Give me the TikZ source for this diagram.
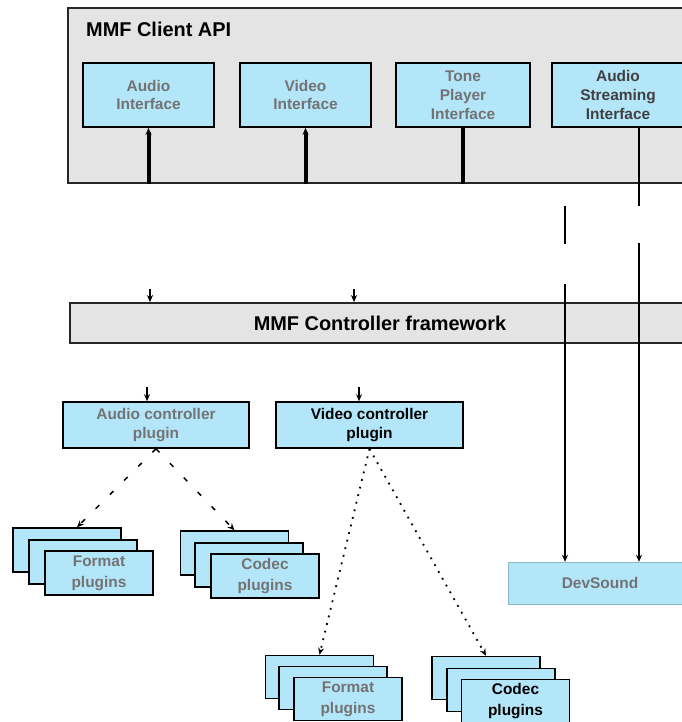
\documentclass[tikz,border=0pt]{standalone}
\usepackage{fontspec}
\setmainfont{Liberation Sans}
\usetikzlibrary{arrows.meta}
\definecolor{panel}{HTML}{E4E4E4}
\definecolor{ifblue}{HTML}{B4E6FA}
\definecolor{edge}{HTML}{262626}
\begin{document}
\begin{tikzpicture}[x=1bp,y=-1bp,
  panelbox/.style={draw=edge,line width=1.8bp,fill=panel,inner sep=0pt},
  titletext/.style={font=\fontsize{20}{23}\selectfont\bfseries,inner sep=0pt},
  ifbox/.style={draw=black,line width=1.8bp,fill=ifblue,inner sep=0pt,align=center,
    font=\fontsize{15.5}{19}\selectfont\bfseries},
  plugbox/.style={draw=black,line width=1.6bp,fill=ifblue,inner sep=0pt,align=center,
    minimum height=46bp,font=\fontsize{15.5}{20}\selectfont\bfseries},
  stackbox/.style={draw=black,line width=1.5bp,fill=ifblue,inner sep=0pt,align=center,
    minimum width=108bp,minimum height=44bp,font=\fontsize{15.5}{21}\selectfont\bfseries},
  devbox/.style={draw=ifblue!80!black,line width=0.4bp,fill=ifblue,inner sep=0pt,align=center,
    font=\fontsize{15.5}{20}\selectfont\bfseries},
  ghost/.style={text=black!55},
  tip/.style={-{Stealth[length=7bp,width=6bp]}},
  thickconn/.style={line width=4bp,draw=black},
  thinconn/.style={line width=1.8bp,draw=black},
  dashconn/.style={line width=1.5bp,draw=black,dash pattern=on 5bp off 15bp,tip},
  dotconn/.style={line width=1.8bp,draw=black,dash pattern=on 1.8bp off 6bp,tip}
]
\useasboundingbox (0,0) rectangle (682,722);
\fill[white] (0,0) rectangle (682,722);

% ---- client API layer ----
\node[panelbox,minimum width=622bp,minimum height=175bp] (api) at (379,95.5) {};
\node[titletext,anchor=west] (apititle) at (86,29) {MMF Client API};

\node[ifbox,ghost,minimum width=131bp,minimum height=64bp] (ifa) at (148.5,95) {Audio\\Interface};
\node[ifbox,ghost,minimum width=131bp,minimum height=64bp] (ifv) at (305.5,95) {Video\\Interface};
\node[ifbox,ghost,minimum width=134bp,minimum height=64bp] (ift) at (463,95) {Tone\\Player\\Interface};
\node[ifbox,text=black!75,minimum width=132bp,minimum height=64bp] (ifs) at (618,95) {Audio\\Streaming\\Interface};

\draw[thickconn,tip] (ifa.south |- api.south) -- (ifa.south);
\draw[thickconn,tip] (ifv.south |- api.south) -- (ifv.south);
\draw[thickconn] (ift.south |- api.south) -- (ift.south);

% ---- controller framework ----
\node[panelbox,minimum width=620bp,minimum height=40bp,titletext] (mcf) at (380,323) {MMF Controller framework};

\coordinate (fa) at (150,183);
\coordinate (fb) at (354,183);
\draw[thinconn,tip,dash pattern=on 0bp off 106bp on 30bp] (fa) -- (fa |- mcf.north);
\draw[thinconn,tip,dash pattern=on 0bp off 106bp on 30bp] (fb) -- (fb |- mcf.north);

% ---- controller plugins ----
\node[plugbox,ghost,minimum width=186bp] (acp) at (156,425) {Audio controller\\plugin};
\node[plugbox,minimum width=187bp] (vcp) at (369.5,425) {Video controller\\plugin};

\coordinate (ga) at (147,343);
\coordinate (gb) at (359,343);
\draw[thinconn,tip,dash pattern=on 0bp off 44bp on 30bp] (ga) -- (ga |- acp.north);
\draw[thinconn,tip,dash pattern=on 0bp off 44bp on 30bp] (gb) -- (gb |- acp.north);

% ---- DevSound ----
\node[devbox,ghost,minimum width=184bp,minimum height=42bp] (dev) at (600,583) {DevSound};

\coordinate (sa) at ([xshift=21bp]ifs.south);
\coordinate (sb) at (565,183);
\draw[thinconn,tip,dash pattern=on 78bp off 37bp on 600bp] (sa) -- (sa |- dev.north);
\draw[thinconn,tip,dash pattern=on 0bp off 23bp on 38bp off 40bp on 600bp] (sb) -- (sb |- dev.north);

% ---- plugin stacks under the audio controller ----
\node[stackbox] (fmA) at (67,550) {};
\node[stackbox] (fmB) at (83,562) {};
\node[stackbox,ghost] (fmC) at (99,573) {Format\\plugins};

\node[stackbox] (cdA) at (234.5,553) {};
\node[stackbox] (cdB) at (249,565) {};
\node[stackbox,ghost] (cdC) at (265,576) {Codec\\plugins};

\draw[dashconn] (acp.south) -- ([xshift=10bp]fmA.north);
\draw[dashconn] (acp.south) -- (cdA.north);

% ---- plugin stacks under the video controller ----
\node[stackbox,minimum height=43bp] (bfA) at (319.5,677) {};
\node[stackbox,minimum height=43bp] (bfB) at (333,688) {};
\node[stackbox,ghost,minimum height=43bp] (bfC) at (348,699) {Format\\plugins};

\node[stackbox,minimum height=43bp] (bcA) at (486,678) {};
\node[stackbox,minimum height=43bp] (bcB) at (501,690) {};
\node[stackbox,minimum height=43bp] (bcC) at (515.5,701) {Codec\\plugins};

\draw[dotconn] (vcp.south) -- (bfA.north);
\draw[dotconn] (vcp.south) -- (bcA.north);
\end{tikzpicture}
\end{document}
